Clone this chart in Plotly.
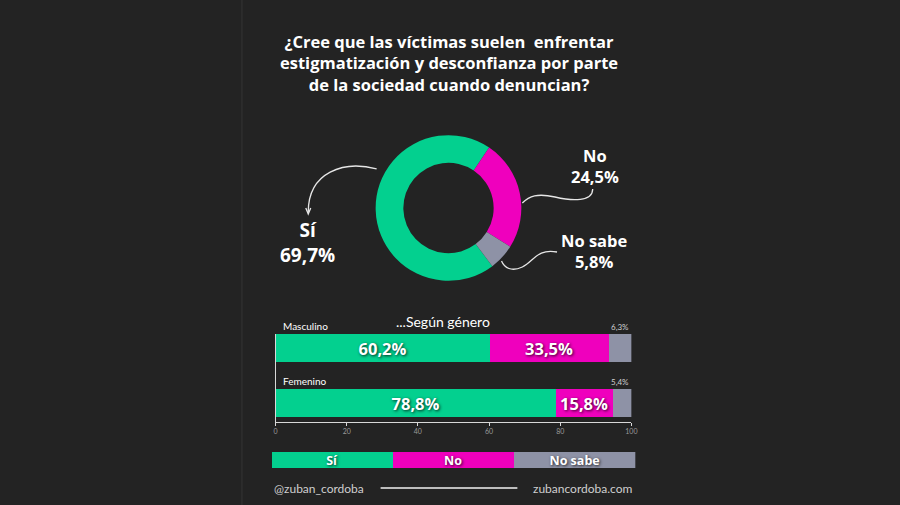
import plotly.graph_objects as go

W, H = 900, 505

# ---------------- data ----------------
title_lines = [
    "¿Cree que las víctimas suelen  enfrentar",
    "estigmatización y desconfianza por parte",
    "de la sociedad cuando denuncian?",
]
answers = ["Sí", "No", "No sabe"]
total_values = [69.7, 24.5, 5.8]
genders = ["Masculino", "Femenino"]
si_by_gender = [60.2, 78.8]
no_by_gender = [33.5, 15.8]
nosabe_by_gender = [6.3, 5.4]
x_ticks = [0, 20, 40, 60, 80, 100]
subtitle = "...Según género"
handle = "@zuban_cordoba"
website = "zubancordoba.com"

# ---------------- style ----------------
BG = "#232323"
GREEN = "#03d08f"
MAGENTA = "#ef00bd"
GRAY = "#8e92a6"
colors = [GREEN, MAGENTA, GRAY]
FONT = "Lato"
BOLD = "Open Sans"
SHADOW = "1px 1px 3px rgba(0,0,0,0.8)"


def px(x):
    return x / W


def py(y):
    return 1 - y / H


def fmt(v):
    return f"{v:.1f}".replace(".", ",") + "%"


fig = go.Figure()

# ---------------- donut ----------------
fig.add_trace(go.Pie(
    labels=answers,
    values=total_values,
    marker=dict(colors=colors, line=dict(width=0)),
    hole=0.62,
    sort=False,
    direction="clockwise",
    rotation=143,
    textinfo="none",
    hoverinfo="label+value",
    showlegend=False,
    domain=dict(x=[px(377), px(524)], y=[py(282), py(134)]),
))

# ---------------- stacked bars by gender ----------------
for vals, col, show_text in [
    (si_by_gender, GREEN, True),
    (no_by_gender, MAGENTA, True),
    (nosabe_by_gender, GRAY, False),
]:
    fig.add_trace(go.Bar(
        x=vals,
        y=list(range(len(genders))),
        orientation="h",
        marker=dict(color=col, line=dict(width=0)),
        width=0.52,
        text=[fmt(v) for v in vals] if show_text else None,
        textposition="inside" if show_text else "none",
        insidetextanchor="middle",
        textangle=0,
        constraintext="none",
        textfont=dict(family=BOLD, size=16.5, color="white", weight="bold", shadow=SHADOW),
        showlegend=False,
        xaxis="x", yaxis="y",
    ))

# ---------------- legend strip ----------------
fig.add_trace(go.Bar(
    x=[1] * len(answers),
    base=list(range(len(answers))),
    y=[0] * len(answers),
    orientation="h",
    marker=dict(color=colors, line=dict(width=0)),
    width=1,
    text=answers,
    textposition="inside",
    insidetextanchor="middle",
    textangle=0,
    constraintext="none",
    textfont=dict(family=BOLD, size=12.5, color="white", weight="bold", shadow=SHADOW),
    showlegend=False,
    xaxis="x2", yaxis="y2",
))

fig.update_layout(
    width=W, height=H,
    margin=dict(l=0, r=0, t=0, b=0),
    paper_bgcolor=BG, plot_bgcolor="rgba(0,0,0,0)",
    barmode="stack",
    bargap=0,
    xaxis=dict(
        domain=[px(276), px(635)], range=[0, 100],
        tickvals=x_ticks, showgrid=False, zeroline=False,
        showline=True, linecolor="#d8d8d8", linewidth=1,
        ticks="outside", ticklen=3, tickcolor="#d8d8d8",
        tickfont=dict(family=FONT, size=7, color="#9a9a9a"),
        anchor="y", fixedrange=True,
    ),
    yaxis=dict(
        domain=[py(422), py(334)], range=[1.345, -0.255],
        showgrid=False, zeroline=False, showticklabels=False,
        showline=True, linecolor="#d8d8d8", linewidth=1,
        anchor="x", fixedrange=True,
    ),
    xaxis2=dict(domain=[px(272), px(639)], range=[0, len(answers)],
                visible=False, anchor="y2", fixedrange=True),
    yaxis2=dict(domain=[py(468), py(452)], range=[-0.5, 0.5],
                visible=False, anchor="x2", fixedrange=True),
    font=dict(family=FONT, color="white"),
)

ann = []
# title (one block, three lines)
ann.append(dict(
    text="<br>".join(title_lines), x=px(451), y=py(62.5), xref="paper", yref="paper",
    xanchor="center", yanchor="middle", align="center", showarrow=False,
    font=dict(family=BOLD, size=16.5, color="white", weight="bold"),
))

# donut labels (name + value on two lines)
donut_label_pos = [(308, 242, 19), (598, 166, 16.5), (598, 251, 16.5)]
for name, val, (cx, cy, fs) in zip(answers, total_values, donut_label_pos):
    ann.append(dict(text=f"{name}<br>{fmt(val)}", x=px(cx), y=py(cy),
                    xref="paper", yref="paper",
                    xanchor="center", yanchor="middle", showarrow=False,
                    font=dict(family=BOLD, size=fs, color="white", weight="bold")))

# subtitle
ann.append(dict(text=subtitle, x=px(445), y=py(321), xref="paper", yref="paper",
                xanchor="center", yanchor="middle", showarrow=False,
                font=dict(family=FONT, size=14, color="white")))

# gender labels and "No sabe" values
for i, g in enumerate(genders):
    ann.append(dict(text=g, x=0, y=i, xref="x", yref="y", xanchor="left",
                    yanchor="bottom", yshift=14, xshift=5, showarrow=False,
                    font=dict(family=FONT, size=10, color="white")))
    ann.append(dict(text=fmt(nosabe_by_gender[i]), x=100, y=i, xref="x", yref="y",
                    xanchor="right", yanchor="bottom", yshift=14, showarrow=False,
                    font=dict(family=FONT, size=8, color="#cfcfcf")))

# footer
ann.append(dict(text=handle, x=px(272), y=py(488), xref="paper", yref="paper",
                xanchor="left", yanchor="middle", showarrow=False,
                font=dict(family=FONT, size=12, color="#cfcfcf")))
ann.append(dict(text=website, x=px(639), y=py(488), xref="paper", yref="paper",
                xanchor="right", yanchor="middle", showarrow=False,
                font=dict(family=FONT, size=12, color="#cfcfcf")))

fig.update_layout(annotations=ann)


def path(cmds):
    out = []
    for c in cmds:
        if isinstance(c, str):
            out.append(c)
        else:
            out.append(f"{px(c[0]):.5f},{py(c[1]):.5f}")
    return " ".join(out)


shapes = [
    # faint panel edge
    dict(type="line", xref="paper", yref="paper", x0=px(242), x1=px(242), y0=0, y1=1,
         line=dict(color="#2c2c2c", width=2), layer="below"),
    # footer rule
    dict(type="line", xref="paper", yref="paper", x0=px(382), x1=px(520),
         y0=py(488), y1=py(488), line=dict(color="#bdbdbd", width=2)),
    # Sí connector
    dict(type="path", xref="paper", yref="paper",
         path=path(["M", (378, 169), "C", (345, 160), (309, 172), (309, 212)]),
         line=dict(color="#e6e6e6", width=1.3)),
    dict(type="path", xref="paper", yref="paper",
         path=path(["M", (306.5, 208), "L", (309, 214), "L", (311.5, 208)]),
         line=dict(color="#e6e6e6", width=1.3)),
    # No connector
    dict(type="path", xref="paper", yref="paper",
         path=path(["M", (596, 189), "C", (596, 202), (575, 201), (558, 197),
                    "C", (540, 193), (532, 196), (525, 203)]),
         line=dict(color="#e6e6e6", width=1.3)),
    # No sabe connector
    dict(type="path", xref="paper", yref="paper",
         path=path(["M", (560, 252), "C", (540, 248), (536, 262), (525, 267),
                    "C", (514, 272), (507, 268), (504, 261)]),
         line=dict(color="#e6e6e6", width=1.3)),
]
fig.update_layout(shapes=shapes)

fig.write_html("out.html")
